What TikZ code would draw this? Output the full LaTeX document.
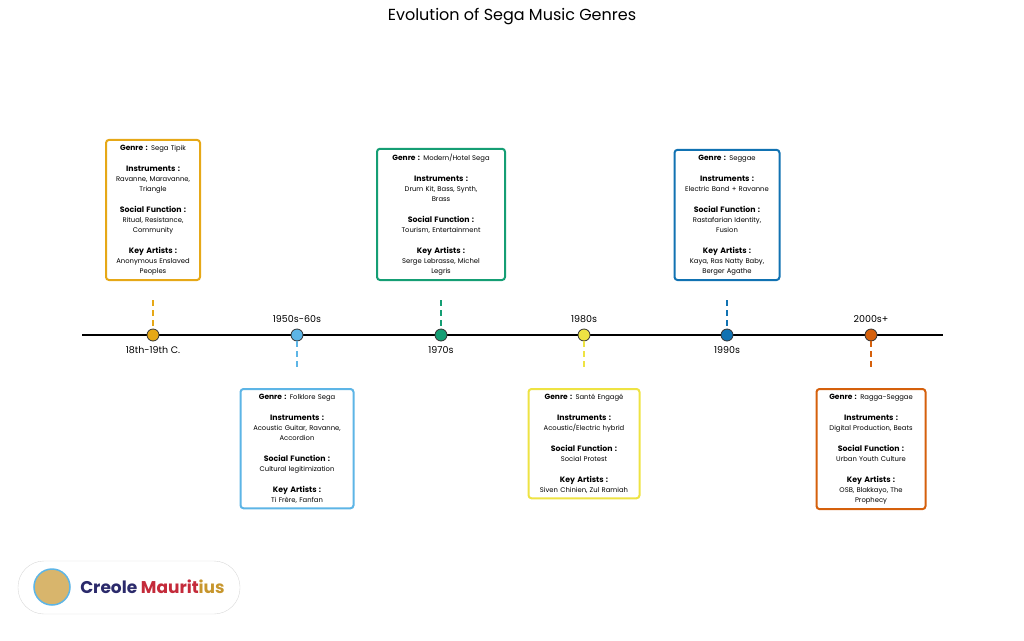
\documentclass[tikz,border=0pt]{standalone}
\usepackage{fontspec}
\setmainfont{Poppins}
\usetikzlibrary{positioning}
\definecolor{cOrange}{HTML}{E6A817}
\definecolor{cSky}{HTML}{5DB5E6}
\definecolor{cGreen}{HTML}{159E74}
\definecolor{cYellow}{HTML}{EEE343}
\definecolor{cBlue}{HTML}{1172B2}
\definecolor{cRed}{HTML}{D5600C}
\definecolor{cNavy}{HTML}{2B2A6B}
\definecolor{cCrimson}{HTML}{C42A3A}
\definecolor{cGold}{HTML}{C7962D}
\newcommand{\era}[4]{{\fontsize{7.5}{10}\selectfont\textbf{Genre :}} #1\\[11pt]\textbf{\fontsize{7.8}{10}\selectfont Instruments :}\\#2\\[11pt]\textbf{\fontsize{7.8}{10}\selectfont Social Function :}\\#3\\[11pt]\textbf{\fontsize{7.8}{10}\selectfont Key Artists :}\\#4}

\begin{document}
\begin{tikzpicture}[x=1pt,y=-1pt,
  era/.style={draw=#1, line width=2pt, rounded corners=3pt, fill=white,
    align=center, font=\fontsize{6.8}{10}\selectfont, inner xsep=3pt, inner ysep=5pt},
  dot/.style={circle, draw=black!80, fill=#1, minimum size=12pt, inner sep=0pt, line width=0.8pt},
  stem/.style={draw=#1, dash pattern=on 6pt off 4pt, line width=1.3pt},
  year/.style={font=\fontsize{9.5}{11}\selectfont}]
\useasboundingbox (0,0) rectangle (1024,640);

% title and axis
\node[font=\fontsize{16}{18}\selectfont] (title) at (512,17) {Evolution of Sega Music Genres};
\coordinate (start) at (82,335);
\coordinate (stop) at (943,335);
\draw[line width=1.3pt] (start) -- (stop);

% the eras
\foreach \x/\c/\lab/\pos/\n in {153/cOrange/18th-19th C./below/a, 297/cSky/1950s-60s/above/b,
    441/cGreen/1970s/below/c, 584/cYellow/1980s/above/d, 727/cBlue/1990s/below/e, 871/cRed/2000s+/above/f}{
  \coordinate (s\n) at (\x,300);
  \coordinate (t\n) at (\x,370);
  \node[dot=\c] (p\n) at (\x,335) {};
  \node[year, \pos=2pt of p\n] (y\n) {\lab};
}
\draw[stem=cOrange] (sa) -- (pa);
\draw[stem=cSky] (pb) -- (tb);
\draw[stem=cGreen] (sc) -- (pc);
\draw[stem=cYellow] (pd) -- (td);
\draw[stem=cBlue] (se) -- (pe);
\draw[stem=cRed] (pf) -- (tf);

% the boxes
\node[era=cOrange, text width=88pt, anchor=south] (ga) at (153,281)
  {\era{Sega Tipik}{Ravanne, Maravanne,\\Triangle}{Ritual, Resistance,\\Community}{Anonymous Enslaved\\Peoples}};
\node[era=cSky, text width=107pt, anchor=north] (gb) at (297,388)
  {\era{Folklore Sega}{Acoustic Guitar, Ravanne,\\Accordion}{Cultural legitimization}{Ti Frère, Fanfan}};
\node[era=cGreen, text width=122pt, anchor=south] (gc) at (441,281)
  {\era{Modern/Hotel Sega}{Drum Kit, Bass, Synth,\\Brass}{Tourism, Entertainment}{Serge Lebrasse, Michel\\Legris}};
\node[era=cYellow, text width=105pt, anchor=north] (gd) at (584,388)
  {\era{Santé Engagé}{Acoustic/Electric hybrid}{Social Protest}{Siven Chinien, Zul Ramiah}};
\node[era=cBlue, text width=99pt, anchor=south] (ge) at (727,281)
  {\era{Seggae}{Electric Band + Ravanne}{Rastafarian Identity,\\Fusion}{Kaya, Ras Natty Baby,\\Berger Agathe}};
\node[era=cRed, text width=103pt, anchor=north] (gf) at (871,388)
  {\era{Ragga-Seggae}{Digital Production, Beats}{Urban Youth Culture}{OSB, Blakkayo, The\\Prophecy}};

% logo
\draw[black!15, fill=white, rounded corners=26pt] (18,561) rectangle (240,614);
\node[circle, draw=cSky, line width=1.5pt, fill=cGold!70, minimum size=36pt] (logo) at (52,587) {};
\node[right=6pt of logo, font=\bfseries\fontsize{17}{19}\selectfont] (brand)
  {\textcolor{cNavy}{Creole }\textcolor{cCrimson}{Maurit}\textcolor{cGold}{ius}};
\end{tikzpicture}
\end{document}
